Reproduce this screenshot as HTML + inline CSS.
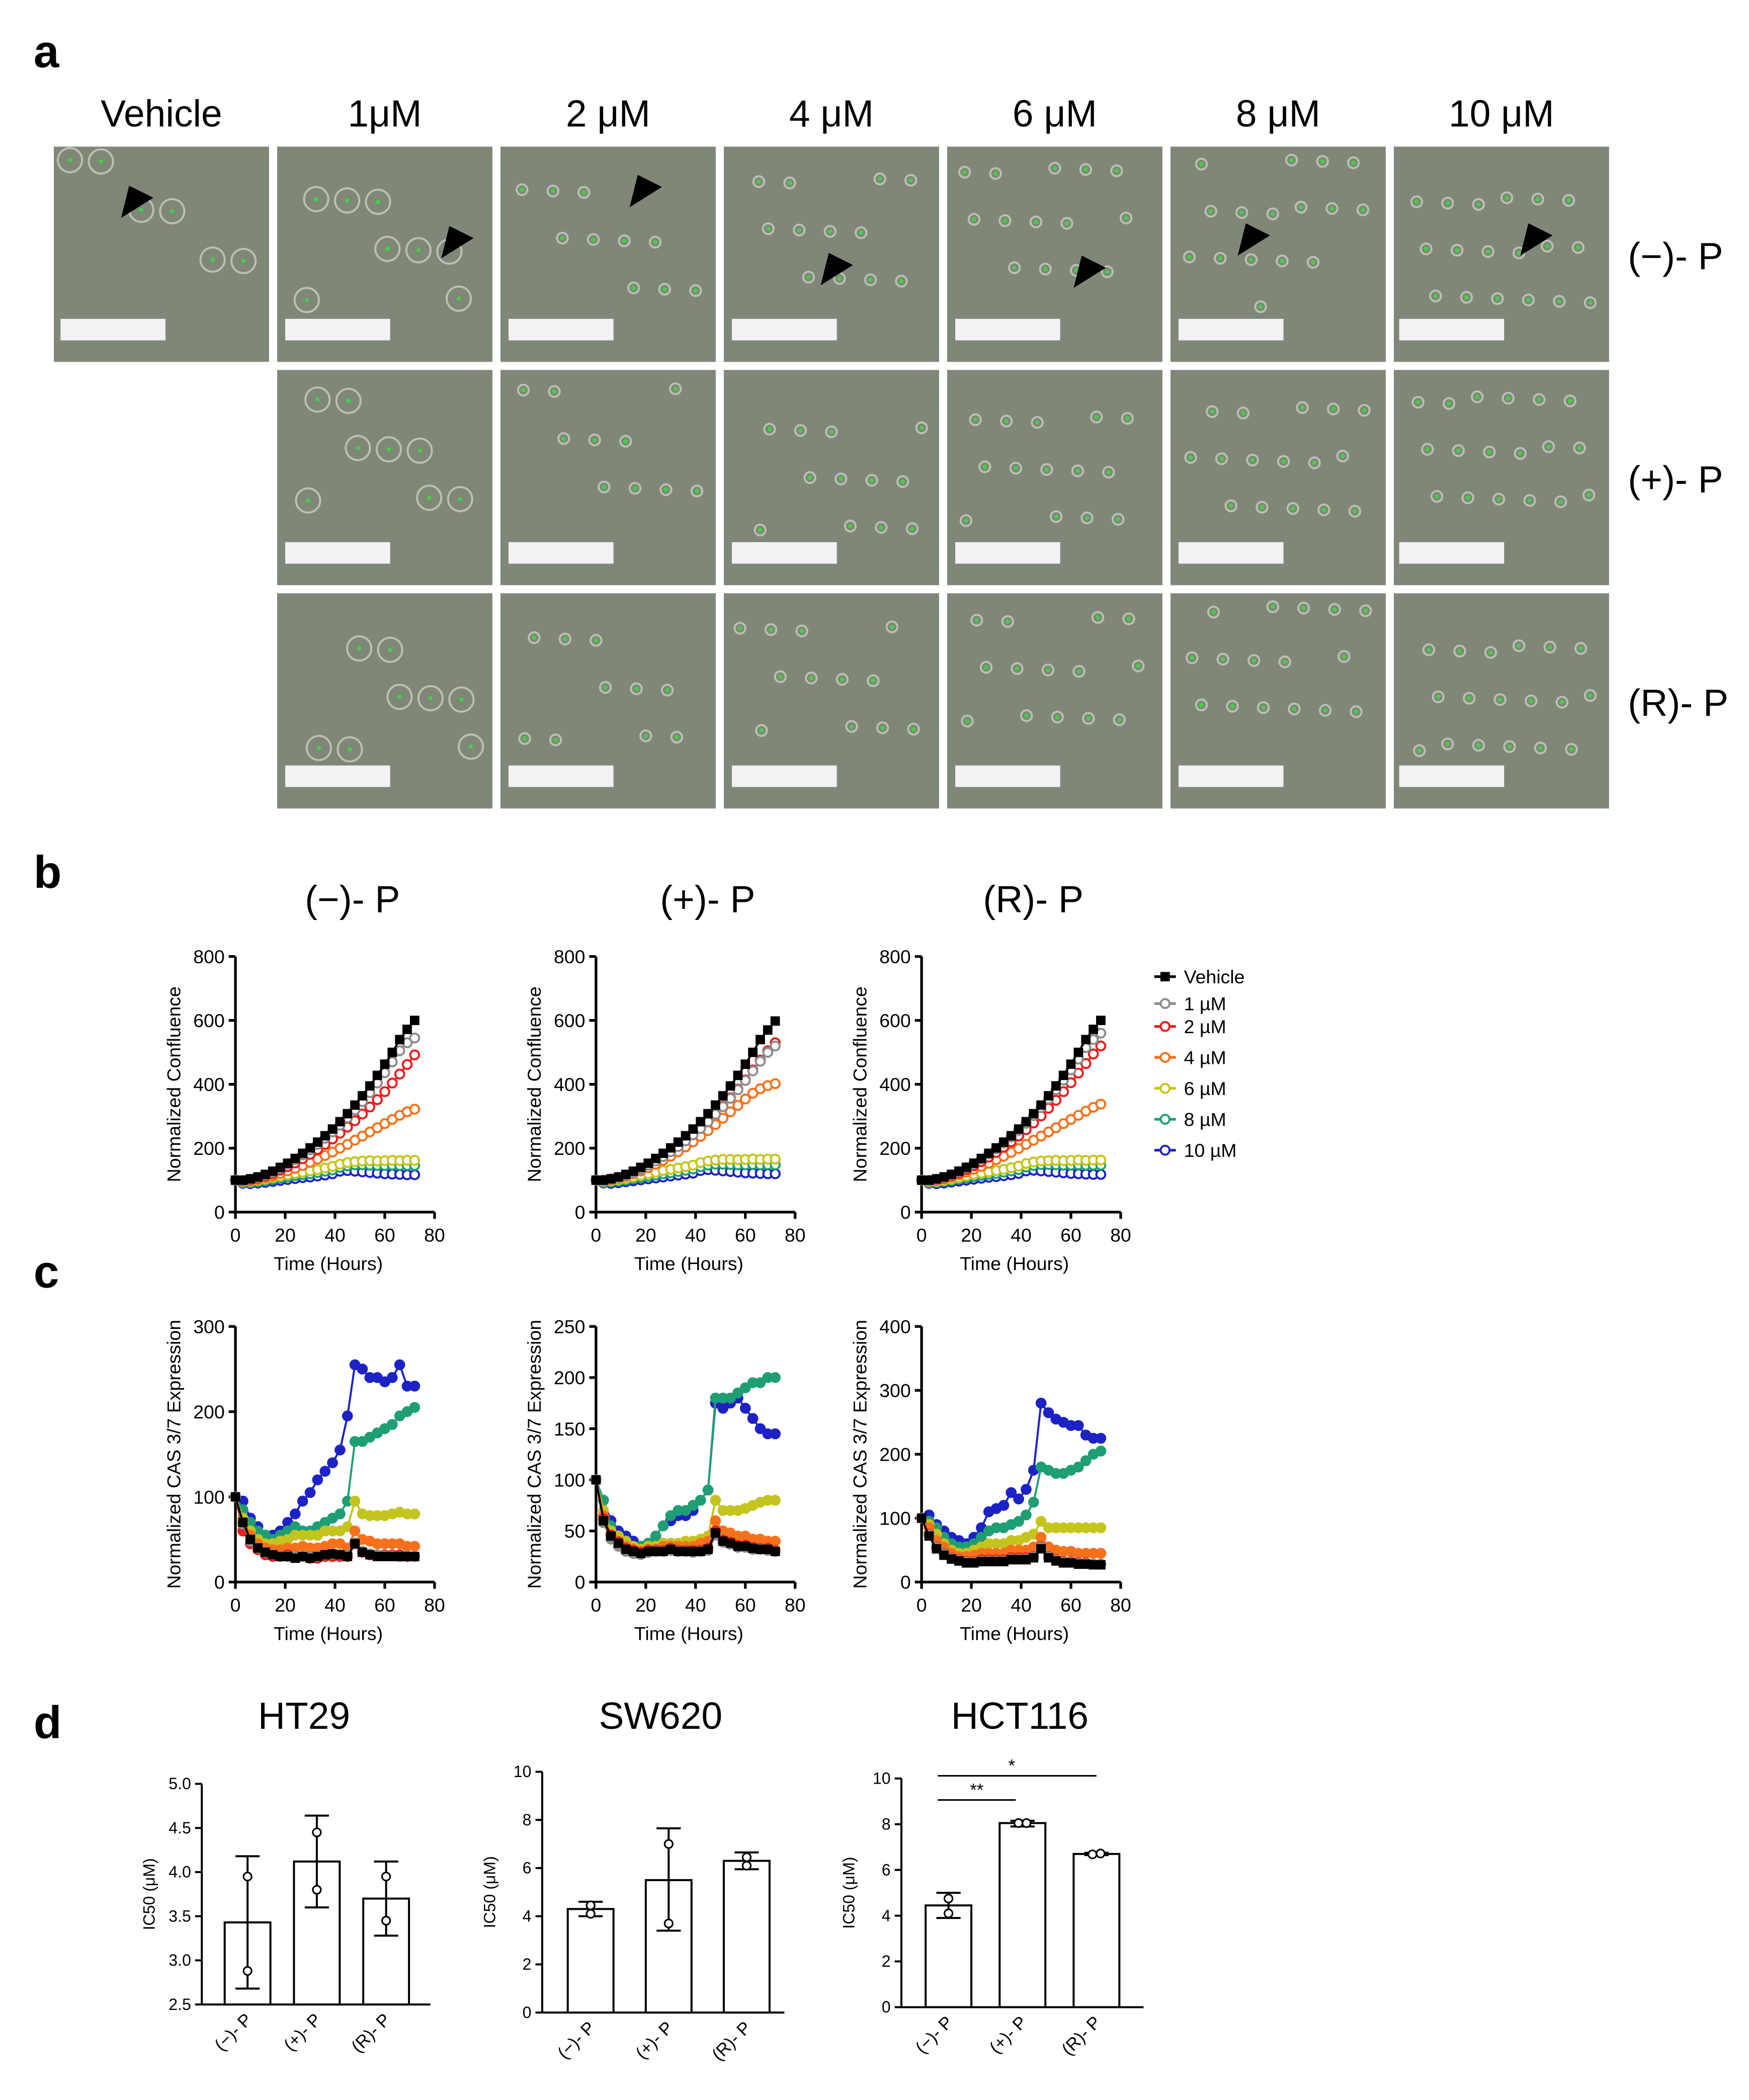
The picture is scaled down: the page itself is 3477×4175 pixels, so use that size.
<!DOCTYPE html>
<html><head><meta charset="utf-8"><style>
html,body{margin:0;padding:0;background:#fff;}
svg{display:block;font-family:"Liberation Sans",Arial,sans-serif;}
</style></head><body>
<svg id="fig" xmlns="http://www.w3.org/2000/svg" width="3477" height="4175" viewBox="0 0 1300 1561" preserveAspectRatio="none">
<rect x="0" y="0" width="1300" height="1561" fill="#fff"/>
</svg>
<script>
// ---------- data ----------
const times = [0,3,6,9,12,15,18,21,24,27,30,33,36,39,42,45,48,51,54,57,60,63,66,69,72];
const doseLabels = ['Vehicle','1 µM','2 µM','4 µM','6 µM','8 µM','10 µM'];
const doseColors = ['#000000','#8c8c8c','#ee1c1c','#f7711b','#c4c41e','#1f9e74','#1c22c4'];
const columnHeaders = ['Vehicle','1μM','2 μM','4 μM','6 μM','8 μM','10 μM'];
const rowLabels = ['(−)- P','(+)- P','(R)- P'];
const confTicks = [0,200,400,600,800];
const xTicks = [0,20,40,60,80];

const b1Veh = [100,100,104,110,118,128,140,153,168,184,201,219,239,260,283,308,335,364,395,428,463,500,540,572,600];
const b1D1  = [100,99,103,109,116,126,137,150,164,179,195,212,231,251,272,295,320,346,374,404,436,470,505,530,545];
const b1D2  = [100,98,101,106,113,121,131,142,154,167,181,196,212,229,247,266,286,307,329,352,377,404,432,462,492];
const b1D4  = [100,97,99,103,108,114,121,129,137,146,156,166,177,188,200,212,225,238,251,264,277,290,303,314,322];
const b1D6  = [100,95,96,99,103,108,112,117,121,125,129,133,138,143,150,155,158,160,161,160,161,162,161,162,162];
const b1D8  = [100,92,92,95,98,102,106,110,114,117,120,124,128,132,140,145,148,148,147,146,146,147,146,146,146];
const b1D10 = [100,90,89,91,93,96,99,102,105,108,110,113,116,120,128,130,128,126,124,122,120,119,118,117,117];

const b2Veh = [100,100,104,110,118,128,140,153,168,184,201,219,239,260,283,308,335,364,395,428,463,500,540,570,598];
const b2D1  = [100,99,103,108,115,124,135,147,160,174,189,205,223,242,262,283,306,330,356,383,412,442,472,500,520];
const b2D2  = [100,100,104,109,116,125,136,148,161,175,190,206,224,243,263,285,308,332,358,385,414,445,476,505,530];
const b2D4  = [100,98,101,106,112,120,129,139,150,162,175,189,204,220,237,255,274,294,314,334,354,372,386,396,402];
const b2D6  = [100,96,98,101,105,110,115,120,125,130,134,138,142,147,155,160,163,165,165,164,165,166,165,166,166];
const b2D8  = [100,93,94,97,100,104,108,112,116,120,123,127,131,135,142,147,150,150,149,148,148,149,148,148,148];
const b2D10 = [100,91,90,92,95,98,101,104,107,110,113,116,119,122,130,133,131,129,127,125,123,122,121,120,120];

const b3Veh = [100,100,104,110,118,128,140,153,168,184,201,219,239,260,283,308,335,364,395,428,463,500,540,572,600];
const b3D1  = [100,99,103,109,117,127,139,152,166,182,198,216,235,256,278,302,327,354,383,413,445,479,515,540,560];
const b3D2  = [100,99,102,107,114,123,133,145,158,172,187,203,220,238,258,279,301,325,350,377,405,435,465,495,520];
const b3D4  = [100,97,100,104,110,117,125,134,143,153,164,175,187,199,212,225,238,251,264,277,290,303,316,328,338];
const b3D6  = [100,95,96,99,103,108,113,118,122,126,130,134,139,144,152,157,160,161,162,161,162,163,162,163,163];
const b3D8  = [100,92,93,96,99,103,107,111,115,118,121,125,129,133,141,146,149,149,148,147,147,148,147,147,147];
const b3D10 = [100,90,89,91,94,97,100,103,106,109,111,114,117,121,129,131,129,127,125,123,121,120,119,118,118];

const c1Ticks = [0,100,200,300];
const c2Ticks = [0,50,100,150,200,250];
const c3Ticks = [0,100,200,300,400];

const c1Veh = [100,70,50,40,35,32,30,30,28,30,28,30,32,33,32,30,45,35,32,30,30,30,30,30,30];
const c1D1  = [100,68,48,40,35,32,30,30,30,30,30,30,32,33,32,32,46,36,33,32,31,31,30,31,30];
const c1D2  = [100,60,45,38,32,30,30,32,30,30,28,28,30,30,30,30,45,35,32,32,32,32,32,30,30];
const c1D4  = [100,70,55,45,40,38,38,40,40,42,40,40,42,45,45,40,60,50,48,45,45,45,45,42,42];
const c1D6  = [100,75,60,50,45,45,48,50,55,55,55,55,60,60,60,65,95,80,78,78,78,80,82,80,80];
const c1D8  = [100,85,70,60,55,50,55,60,65,60,60,65,70,75,80,95,165,165,170,175,180,185,195,200,205];
const c1D10 = [100,95,75,65,55,55,60,70,80,95,105,120,130,140,155,195,255,250,240,240,235,240,255,230,230];

const c2Veh = [100,60,45,38,32,30,28,30,30,30,32,30,30,30,30,32,48,40,38,35,35,33,32,32,30];
const c2D1  = [100,58,42,35,30,28,27,29,30,30,31,30,30,29,30,31,46,39,37,34,34,32,32,31,30];
const c2D2  = [100,62,46,39,33,31,29,31,31,31,33,31,31,31,31,33,50,41,39,36,36,34,33,33,31];
const c2D4  = [100,65,45,40,35,32,30,32,32,35,35,35,35,35,38,40,60,50,48,45,45,42,42,40,40];
const c2D6  = [100,70,50,45,40,35,32,35,35,38,38,38,40,40,42,45,80,70,70,70,72,75,78,80,80];
const c2D8  = [100,80,55,45,40,35,35,38,45,55,65,70,70,75,80,90,180,180,180,185,190,195,195,200,200];
const c2D10 = [100,80,60,50,45,40,35,38,45,55,60,65,65,70,80,90,175,170,175,180,170,160,150,145,145];

const c3Veh = [100,72,52,42,36,33,30,30,32,32,32,32,35,35,35,38,52,38,33,30,30,28,28,27,27];
const c3D1  = [100,74,54,44,37,34,31,31,33,33,33,33,36,36,36,39,54,39,34,31,31,29,29,28,28];
const c3D2  = [100,75,55,45,38,35,32,32,35,35,35,35,38,38,38,40,55,40,35,32,32,30,30,28,28];
const c3D4  = [100,85,65,55,45,40,40,42,45,45,45,45,50,50,50,55,70,55,50,48,48,45,45,45,45];
const c3D6  = [100,90,75,60,50,45,45,50,55,60,60,60,65,65,70,75,95,85,85,85,85,85,85,85,85];
const c3D8  = [100,95,85,70,60,55,55,60,70,80,85,85,90,95,105,125,180,175,170,170,175,180,190,200,205];
const c3D10 = [100,105,90,80,70,65,60,70,85,110,115,120,140,130,145,175,280,265,255,250,245,245,230,225,225];

const barCats = ['(−)- P','(+)- P','(R)- P'];
const ht29Means = [3.43,4.12,3.70];
const ht29Lo = [2.68,3.60,3.28];
const ht29Hi = [4.18,4.64,4.12];
const ht29Pts1 = [3.95,4.45,3.95];
const ht29Pts2 = [2.88,3.80,3.45];
const ht29Ticks = [2.5,3.0,3.5,4.0,4.5,5.0];
const sw620Means = [4.30,5.50,6.30];
const sw620Lo = [4.00,3.40,5.95];
const sw620Hi = [4.60,7.65,6.65];
const sw620Pts1 = [4.45,7.00,6.45];
const sw620Pts2 = [4.10,3.70,6.10];
const hctMeans = [4.45,8.05,6.70];
const hctLo = [3.90,7.90,6.65];
const hctHi = [5.00,8.15,6.75];
const hctPts1 = [4.75,8.05,6.68];
const hctPts2 = [4.10,8.05,6.72];
const tenTicks = [0,2,4,6,8,10];

// ---------- helpers ----------
const NS='http://www.w3.org/2000/svg';
const svg=document.getElementById('fig');
function mk(tag,attrs,name,parent){
  const el=document.createElementNS(NS,tag);
  for(const k in attrs) el.setAttribute(k,attrs[k]);
  
  
  (parent||svg).appendChild(el);
  return el;
}
function txt(x,y,s,size,name,opts){
  opts=opts||{};
  const a={x:x,y:y,'font-size':size,fill:'#000','text-anchor':opts.anchor||'middle'};
  if(opts.bold) a['font-weight']='bold';
  if(opts.transform) a.transform=opts.transform;
  const t=mk('text',a,name,opts.parent);
  t.textContent=s;
  return t;
}

// ---------- panel a ----------
txt(25,50,'a',34,'panel-a-label',{anchor:'start',bold:true});
const colX=[40,206,372,538,704,870,1036];
const rowY=[109,275,441];
columnHeaders.forEach((h,i)=>txt(colX[i]+80,94,h,28,'column-header-'+i));
rowLabels.forEach((r,i)=>txt(1210,rowY[i]+91,r,28,'row-label-'+i,{anchor:'start'}));
const arrowPos={ '0,0':[100,150],'0,1':[338,180],'0,2':[478,142],'0,3':[620,200],'0,4':[808,202],'0,5':[930,178],'0,6':[1140,178]};
for(let r=0;r<3;r++){
  for(let c=0;c<7;c++){
    if(r>0&&c===0) continue;
    const g=mk('g',{},'micrograph-r'+r+'-c'+c);
    mk('rect',{x:colX[c],y:rowY[r],width:160,height:160,fill:'#7f8878'},'micrograph-bg',g);
    // sparse cell specks
    const n=6+c*2;
    for(let k=0;k<n;k++){
      const cx=colX[c]+12+((k*53+r*31+c*17)%136);
      const cy=rowY[r]+10+((k*37+r*19+c*29)%110);
      mk('circle',{cx:cx,cy:cy,r:c<2?9:4,fill:'none',stroke:'#b9c0b4','stroke-width':1.5},'cell',g);
      mk('circle',{cx:cx,cy:cy,r:1.6,fill:'#44d044'},'cell-signal',g);
    }
    const bx = c===0?45:(c===1?212:(c===5?876:(c===6?1040:colX[c]+6)));
    mk('rect',{x:bx,y:rowY[r]+128,width:78,height:16,fill:'#f2f2f2'},'scale-bar',g);
    const ap=arrowPos[r+','+c];
    if(ap){
      const [ax,ay]=ap;
      mk('polygon',{points:`${ax-10},${ay+12} ${ax-4},${ay-12} ${ax+14},${ay-3}`,fill:'#000'},'arrowhead',g);
    }
  }
}

// ---------- line charts ----------
function lineChart(cfg){
  const g=mk('g',{},cfg.name);
  const X=t=>cfg.x0+t/80*(cfg.x1-cfg.x0);
  const Y=v=>cfg.y0-v/cfg.ymax*(cfg.y0-cfg.ytop);
  mk('line',{x1:cfg.x0,y1:cfg.ytop,x2:cfg.x0,y2:cfg.y0,stroke:'#000','stroke-width':2},'y-axis',g);
  mk('line',{x1:cfg.x0,y1:cfg.y0,x2:cfg.x1,y2:cfg.y0,stroke:'#000','stroke-width':2},'x-axis',g);
  cfg.yticks.forEach(v=>{
    mk('line',{x1:cfg.x0-5,y1:Y(v),x2:cfg.x0,y2:Y(v),stroke:'#000','stroke-width':2},'y-tick',g);
    txt(cfg.x0-8,Y(v)+5,String(v),14,'y-tick-label',{anchor:'end',parent:g});
  });
  xTicks.forEach(v=>{
    mk('line',{x1:X(v),y1:cfg.y0,x2:X(v),y2:cfg.y0+5,stroke:'#000','stroke-width':2},'x-tick',g);
    txt(X(v),cfg.y0+22,String(v),14,'x-tick-label',{parent:g});
  });
  txt((cfg.x0+cfg.x1)/2-5,cfg.y0+43,'Time (Hours)',14,'x-axis-title',{parent:g});
  const ym=(cfg.ytop+cfg.y0)/2;
  txt(cfg.x0-41,ym,cfg.ytitle,14,'y-axis-title',{parent:g,transform:`rotate(-90 ${cfg.x0-41} ${ym})`});
  // draw from high dose to vehicle so vehicle is on top
  for(let s=cfg.series.length-1;s>=0;s--){
    const vals=cfg.series[s], col=doseColors[s];
    const pts=vals.map((v,i)=>X(times[i]).toFixed(1)+','+Y(v).toFixed(1)).join(' ');
    mk('polyline',{points:pts,fill:'none',stroke:col,'stroke-width':1.5},'series-line-'+s,g);
    vals.forEach((v,i)=>{
      if(s===0){
        mk('rect',{x:X(times[i])-3.5,y:Y(v)-3.5,width:7,height:7,fill:'#000'},'vehicle-marker',g);
      } else {
        mk('circle',{cx:X(times[i]),cy:Y(v),r:3.3,fill:cfg.filled?col:'#fff',stroke:col,'stroke-width':1.5},'dose-marker-'+s,g);
      }
    });
  }
}
txt(25,660,'b',34,'panel-b-label',{anchor:'start',bold:true});
txt(262,678,'(−)- P',28,'chart-b1-title');
txt(526,678,'(+)- P',28,'chart-b2-title');
txt(768,678,'(R)- P',28,'chart-b3-title');
const bx0=[175,443,685];
const bSeries=[[b1Veh,b1D1,b1D2,b1D4,b1D6,b1D8,b1D10],[b2Veh,b2D1,b2D2,b2D4,b2D6,b2D8,b2D10],[b3Veh,b3D1,b3D2,b3D4,b3D6,b3D8,b3D10]];
for(let i=0;i<3;i++){
  lineChart({name:'confluence-chart-'+(i+1),x0:bx0[i],x1:bx0[i]+148,y0:901,ytop:711,ymax:800,yticks:confTicks,ytitle:'Normalized Confluence',series:bSeries[i],filled:false});
}
// legend
const legY=[726,746,763,786,809,832,855];
doseLabels.forEach((l,i)=>{
  const g=mk('g',{},'legend-entry-'+i);
  mk('line',{x1:858,y1:legY[i],x2:874,y2:legY[i],stroke:doseColors[i],'stroke-width':2},'legend-line',g);
  if(i===0) mk('rect',{x:862.5,y:legY[i]-3.5,width:7,height:7,fill:'#000'},'legend-marker',g);
  else mk('circle',{cx:866,cy:legY[i],r:3.3,fill:'#fff',stroke:doseColors[i],'stroke-width':1.5},'legend-marker',g);
  txt(880,legY[i]+5,l,14,'legend-label',{anchor:'start',parent:g});
});

txt(25,957,'c',34,'panel-c-label',{anchor:'start',bold:true});
const cSeries=[[c1Veh,c1D1,c1D2,c1D4,c1D6,c1D8,c1D10],[c2Veh,c2D1,c2D2,c2D4,c2D6,c2D8,c2D10],[c3Veh,c3D1,c3D2,c3D4,c3D6,c3D8,c3D10]];
const cMax=[300,250,400];
const cTicks=[c1Ticks,c2Ticks,c3Ticks];
for(let i=0;i<3;i++){
  lineChart({name:'caspase-chart-'+(i+1),x0:bx0[i],x1:bx0[i]+148,y0:1176,ytop:986,ymax:cMax[i],yticks:cTicks[i],ytitle:'Normalized CAS 3/7 Expression',series:cSeries[i],filled:true});
}

// ---------- bar charts ----------
txt(25,1292,'d',34,'panel-d-label',{anchor:'start',bold:true});
function barChart(cfg){
  const g=mk('g',{},cfg.name);
  const Y=v=>cfg.y0-(v-cfg.ymin)/(cfg.ymax-cfg.ymin)*(cfg.y0-cfg.ytop);
  txt(cfg.titleX,1285,cfg.title,28,'chart-title',{parent:g});
  mk('line',{x1:cfg.x0,y1:cfg.ytop,x2:cfg.x0,y2:cfg.y0,stroke:'#000','stroke-width':1.5},'y-axis',g);
  mk('line',{x1:cfg.x0,y1:cfg.y0,x2:cfg.x0+cfg.w,y2:cfg.y0,stroke:'#000','stroke-width':1.5},'x-axis',g);
  cfg.ticks.forEach(v=>{
    mk('line',{x1:cfg.x0-5,y1:Y(v),x2:cfg.x0,y2:Y(v),stroke:'#000','stroke-width':1.5},'y-tick',g);
    txt(cfg.x0-8,Y(v)+4,cfg.fmt(v),12,'y-tick-label',{anchor:'end',parent:g});
  });
  const ym=(cfg.ytop+cfg.y0)/2;
  txt(cfg.x0-35,ym,'IC50 (μM)',12,'y-axis-title',{parent:g,transform:`rotate(-90 ${cfg.x0-35} ${ym})`});
  cfg.means.forEach((m,i)=>{
    const cx=cfg.x0+cfg.first+i*cfg.step;
    mk('rect',{x:cx-17,y:Y(m),width:34,height:cfg.y0-Y(m),fill:'#fff',stroke:'#000','stroke-width':1.5},'bar-'+i,g);
    mk('line',{x1:cx,y1:Y(cfg.lo[i]),x2:cx,y2:Y(cfg.hi[i]),stroke:'#000','stroke-width':1.5},'error-bar',g);
    mk('line',{x1:cx-9,y1:Y(cfg.lo[i]),x2:cx+9,y2:Y(cfg.lo[i]),stroke:'#000','stroke-width':1.5},'error-cap',g);
    mk('line',{x1:cx-9,y1:Y(cfg.hi[i]),x2:cx+9,y2:Y(cfg.hi[i]),stroke:'#000','stroke-width':1.5},'error-cap',g);
    const dx = Math.abs(cfg.p1[i]-cfg.p2[i])<0.2?3:0;
    mk('circle',{cx:cx-dx,cy:Y(cfg.p1[i]),r:3,fill:'#fff',stroke:'#000','stroke-width':1.2},'data-point',g);
    mk('circle',{cx:cx+dx,cy:Y(cfg.p2[i]),r:3,fill:'#fff',stroke:'#000','stroke-width':1.2},'data-point',g);
    txt(cx+4,cfg.y0+12,barCats[i],13,'x-tick-label',{anchor:'end',parent:g,transform:`rotate(-45 ${cx+4} ${cfg.y0+12})`});
  });
  return {g:g,Y:Y};
}
barChart({name:'ht29-chart',title:'HT29',titleX:226,x0:150,w:170,y0:1490,ytop:1326,ymin:2.5,ymax:5.0,ticks:ht29Ticks,fmt:v=>v.toFixed(1),means:ht29Means,lo:ht29Lo,hi:ht29Hi,p1:ht29Pts1,p2:ht29Pts2,first:34,step:51.5});
barChart({name:'sw620-chart',title:'SW620',titleX:491,x0:403,w:180,y0:1496,ytop:1317,ymin:0,ymax:10,ticks:tenTicks,fmt:v=>String(v),means:sw620Means,lo:sw620Lo,hi:sw620Hi,p1:sw620Pts1,p2:sw620Pts2,first:36,step:58});
const h=barChart({name:'hct116-chart',title:'HCT116',titleX:758,x0:670,w:180,y0:1492,ytop:1322,ymin:0,ymax:10,ticks:tenTicks,fmt:v=>String(v),means:hctMeans,lo:hctLo,hi:hctHi,p1:hctPts1,p2:hctPts2,first:35,step:55});
mk('line',{x1:697,y1:1338,x2:755,y2:1338,stroke:'#000','stroke-width':1.2},'significance-line-1',h.g);
txt(726,1335,'**',13,'significance-stars-1',{parent:h.g});
mk('line',{x1:697,y1:1320,x2:815,y2:1320,stroke:'#000','stroke-width':1.2},'significance-line-2',h.g);
txt(752,1317,'*',13,'significance-stars-2',{parent:h.g});
</script>
</body></html>
